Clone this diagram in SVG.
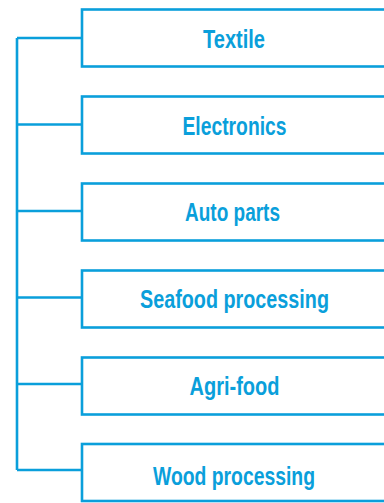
<svg xmlns="http://www.w3.org/2000/svg" width="384" height="503" viewBox="0 0 384 503">
  <style>
    .box { fill: #ffffff; stroke: #0a9fdb; stroke-width: 2.6; }
    .link { fill: none; stroke: #0a9fdb; stroke-width: 2.6; stroke-linecap: butt; }
    .label { fill: #0a9fdb; font-family: "Liberation Sans", Arial, sans-serif; font-weight: bold; font-size: 26.5px; text-anchor: middle; }
  </style>
  <rect width="384" height="503" fill="#ffffff"/>
  <g id="connectors">
    <path class="link" d="M17 38 V470"/>
    <path class="link" d="M17 38 H82"/>
    <path class="link" d="M17 124.5 H82"/>
    <path class="link" d="M17 211 H82"/>
    <path class="link" d="M17 297.5 H82"/>
    <path class="link" d="M17 384 H82"/>
    <path class="link" d="M17 470 H82"/>
  </g>
  <g id="textile">
    <rect class="box" x="82" y="9.5" width="306" height="57"/>
    <text class="label" x="234" y="48" textLength="62" lengthAdjust="spacingAndGlyphs">Textile</text>
  </g>
  <g id="electronics">
    <rect class="box" x="82" y="96.5" width="306" height="57"/>
    <text class="label" x="234.5" y="135" textLength="104" lengthAdjust="spacingAndGlyphs">Electronics</text>
  </g>
  <g id="auto-parts">
    <rect class="box" x="82" y="183.5" width="306" height="57"/>
    <text class="label" x="232.5" y="221" textLength="95" lengthAdjust="spacingAndGlyphs">Auto parts</text>
  </g>
  <g id="seafood-processing">
    <rect class="box" x="82" y="270.5" width="306" height="57"/>
    <text class="label" x="234.5" y="308" textLength="189" lengthAdjust="spacingAndGlyphs">Seafood processing</text>
  </g>
  <g id="agri-food">
    <rect class="box" x="82" y="357.5" width="306" height="57"/>
    <text class="label" x="234.5" y="395" textLength="90" lengthAdjust="spacingAndGlyphs">Agri-food</text>
  </g>
  <g id="wood-processing">
    <rect class="box" x="82" y="444" width="306" height="57"/>
    <text class="label" x="234" y="485" textLength="162" lengthAdjust="spacingAndGlyphs">Wood processing</text>
  </g>
</svg>
